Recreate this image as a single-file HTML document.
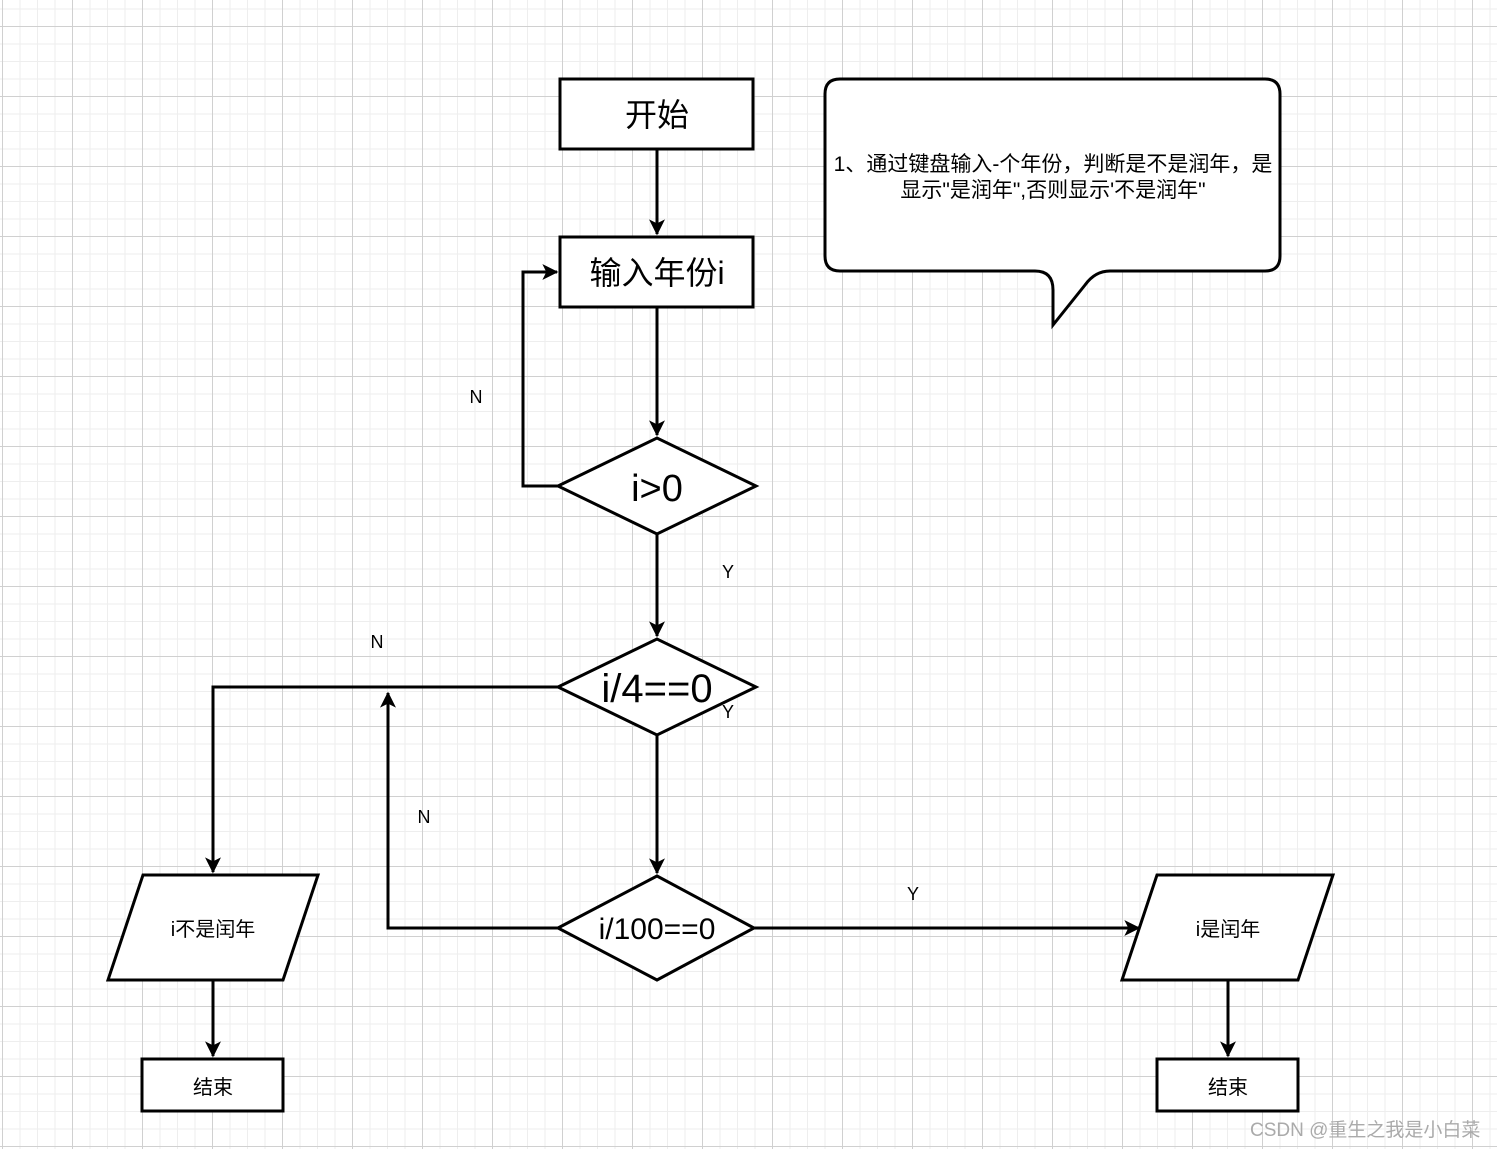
<!DOCTYPE html>
<html><head><meta charset="utf-8"><style>
html,body{margin:0;padding:0}
body{width:1497px;height:1149px;overflow:hidden;background-color:#fff;
background-image:
linear-gradient(to right,#d0d0d0 1px,transparent 1px),
linear-gradient(to bottom,#d0d0d0 1px,transparent 1px),
linear-gradient(to right,#eeeeee 1px,transparent 1px),
linear-gradient(to bottom,#eeeeee 1px,transparent 1px);
background-size:70px 70px,70px 70px,17.5px 17.5px,17.5px 17.5px;
background-position:2px 26px,2px 26px,2px 26px,2px 26px;}
svg{position:absolute;left:0;top:0}
text{font-family:"Liberation Sans","Noto Sans CJK SC",sans-serif;fill:#000}
</style></head><body>
<svg width="1497" height="1149" viewBox="0 0 1497 1149">
<defs>
<marker id="b" viewBox="0 0 12 12" markerWidth="16" markerHeight="16" refX="11" refY="6" orient="auto" markerUnits="userSpaceOnUse"><path d="M0,0 L12,6 L0,12 L3,6 z" fill="#000"/></marker></defs>
<g stroke="#000" stroke-width="3" fill="#fff">
<rect x="560" y="79" width="193" height="70"/>
<rect x="560" y="237" width="193" height="70"/>
<polygon points="558,486 657,438 756,486 657,534"/>
<polygon points="558,687 657,639 756,687 657,735"/>
<polygon points="558,928 657,876 754,928 657,980"/>
<polygon points="143,875 318,875 283,980 108,980"/>
<polygon points="1157,875 1333,875 1298,980 1122,980"/>
<rect x="142" y="1059" width="141" height="52"/>
<rect x="1157" y="1059" width="141" height="52"/>
<path d="M840,79 H1265 Q1280,79 1280,94 V256 Q1280,271 1265,271 H1110 Q1095,271 1085,285 L1053,325 V290 Q1053,271 1035,271 H840 Q825,271 825,256 V94 Q825,79 840,79 Z"/>
</g>
<g stroke="#000" stroke-width="3" fill="none">
<path d="M657,149 V234" marker-end="url(#b)"/>
<path d="M657,307 V435" marker-end="url(#b)"/>
<path d="M558,486 H523 V272 H557" marker-end="url(#b)"/>
<path d="M657,534 V636" marker-end="url(#b)"/>
<path d="M558,687 H213 V872" marker-end="url(#b)"/>
<path d="M657,735 V873" marker-end="url(#b)"/>
<path d="M558,928 H388 V693" marker-end="url(#b)"/>
<path d="M754,928 H1139" marker-end="url(#b)"/>
<path d="M213,980 V1056" marker-end="url(#b)"/>
<path d="M1228,980 V1056" marker-end="url(#b)"/>
</g>
<g text-anchor="middle">
<text x="657" y="126" font-size="32">开始</text>
<text x="657" y="284" font-size="32">输入年份i</text>
<text x="657" y="501" font-size="38">i&gt;0</text>
<text x="657" y="702" font-size="40">i/4==0</text>
<text x="657" y="939" font-size="30">i/100==0</text>
<text x="213" y="936" font-size="20">i不是闰年</text>
<text x="1228" y="936" font-size="20">i是闰年</text>
<text x="213" y="1094" font-size="20">结束</text>
<text x="1228" y="1094" font-size="20">结束</text>
<text x="1053" y="171" font-size="21">1、通过键盘输入-个年份，判断是不是润年，是</text>
<text x="1053" y="197" font-size="21">显示"是润年",否则显示'不是润年"</text>
<text x="476" y="403" font-size="18">N</text>
<text x="728" y="578" font-size="18">Y</text>
<text x="377" y="648" font-size="18">N</text>
<text x="728" y="718" font-size="18">Y</text>
<text x="424" y="823" font-size="18">N</text>
<text x="913" y="900" font-size="18">Y</text>
</g>
<text x="1250" y="1136" font-size="19" style="fill:#aaa">CSDN @重生之我是小白菜</text>
</svg>
</body></html>
